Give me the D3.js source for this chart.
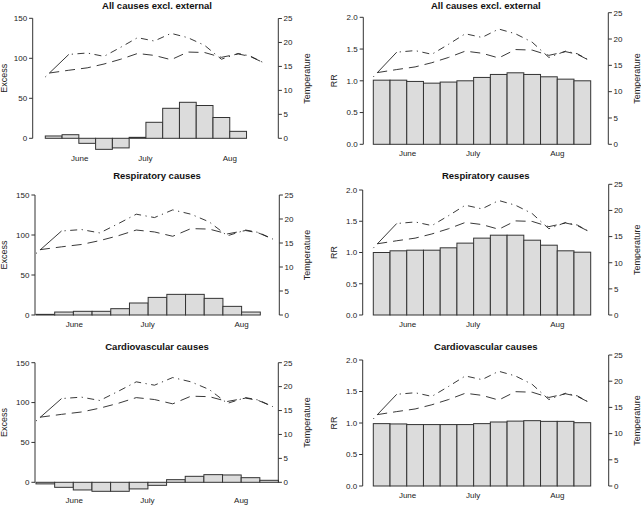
<!DOCTYPE html>
<html>
<head>
<meta charset="utf-8">
<script src="https://cdn.jsdelivr.net/npm/d3@7"></script>
<style>
  html, body { margin: 0; padding: 0; background: #fff; }
  svg { display: block; font-family: "Liberation Sans", Arial, Helvetica, sans-serif; }
</style>
</head>
<body>
<svg id="chart" width="641" height="507"></svg>
<script>
// ---------------- DATA ----------------
const weeks = [1, 2, 3, 4, 5, 6, 7, 8, 9, 10, 11, 12, 13];
const monthLabels = ["June", "July", "Aug"];
const monthPos = [2.05, 5.97, 11.0];           // position in week units

const excessAll    = [2.9, 4.5, -6.3, -13.8, -12.0, 1.2, 20.0, 37.5, 45.0, 41.0, 26.0, 8.7, 0];
const excessResp   = [0.8, 3.7, 4.6, 4.6, 7.9, 15.0, 22.0, 25.8, 25.8, 20.8, 10.8, 3.7, null];
const excessCardio = [-2.0, -6.3, -9.6, -11.3, -11.3, -8.3, -3.8, 3.3, 7.5, 9.6, 9.2, 5.8, 2.5];

const rrAll    = [1.01, 1.01, 0.99, 0.963, 0.98, 1.0, 1.053, 1.10, 1.126, 1.10, 1.063, 1.026, 1.0];
const rrResp   = [1.0, 1.027, 1.037, 1.037, 1.075, 1.15, 1.23, 1.277, 1.277, 1.197, 1.117, 1.027, 1.005];
const rrCardio = [0.99, 0.985, 0.975, 0.975, 0.975, 0.975, 0.99, 1.016, 1.03, 1.037, 1.026, 1.026, 1.005];

const tempX    = [0, 1.4, 2.5, 3.5, 4.5, 5.5, 6.5, 7.5, 8.5, 9.5, 10.5, 11.5, 12.2, 13];
const tempMax  = [12.8, 17.5, 17.8, 17.1, 19.0, 21.0, 20.3, 21.9, 21.0, 19.4, 16.5, 17.7, 17.2, 15.8];
const tempMean = [13.5, 14.2, 14.7, 15.5, 16.5, 17.7, 17.3, 16.4, 18.0, 17.9, 16.9, 17.6, 17.1, 15.8];

const excessTicks = [0, 50, 100, 150];
const rrTicks = [0, 0.5, 1.0, 1.5, 2.0];
const tempTicks = [0, 5, 10, 15, 20, 25];

const titles = ["All causes excl. external", "Respiratory causes", "Cardiovascular causes"];

// ---------------- LAYOUT ----------------
const panels = [
  {title: titles[0], kind: "excess", values: excessAll,  axL: 32.7, axR: 278.3, y0: 138.3, yTop: 18.3, tTop: 18.5, bx0: 45.3, bx1: 263.3, lx1: 263.3, titleX: 157,   titleY: 8.5},
  {title: titles[0], kind: "rr",     values: rrAll,      axL: 363.3, axR: 608.3, y0: 144.3, yTop: 17.3, tTop: 12.7, bx0: 373.3, bx1: 590.7, lx1: 590.7, titleX: 485.8, titleY: 8.5},
  {title: titles[1], kind: "excess", values: excessResp, axL: 35,   axR: 279.3, y0: 315,   yTop: 195,  tTop: 195,  bx0: 36,   bx1: 279,   lx1: 273,   titleX: 157,   titleY: 178.5},
  {title: titles[1], kind: "rr",     values: rrResp,     axL: 362.7, axR: 608.7, y0: 315,   yTop: 190,  tTop: 184.3, bx0: 373.3, bx1: 590.7, lx1: 590.7, titleX: 485.8, titleY: 178.5},
  {title: titles[2], kind: "excess", values: excessCardio, axL: 35, axR: 278.3, y0: 482.3, yTop: 362.7, tTop: 362.7, bx0: 36,  bx1: 278.5, lx1: 273,   titleX: 157,   titleY: 349.5},
  {title: titles[2], kind: "rr",     values: rrCardio,   axL: 362.7, axR: 608.7, y0: 486,   yTop: 360,  tTop: 355,  bx0: 373.3, bx1: 590.7, lx1: 590.7, titleX: 485.8, titleY: 349.5}
];

const ink = "#333";
const svg = d3.select("#chart");

panels.forEach(p => {
  const g = svg.append("g");
  const isEx = p.kind === "excess";
  const x = d3.scaleLinear().domain([0, weeks.length]).range([p.bx0, p.bx1]);
  const xl = d3.scaleLinear().domain([0, weeks.length]).range([p.bx0, p.lx1]);
  const y = d3.scaleLinear().domain(isEx ? [0, 150] : [0, 2]).range([p.y0, p.yTop]);
  const yt = d3.scaleLinear().domain([0, 25]).range([p.y0, p.tTop]);

  // bars
  const bars = weeks.map((w, i) => ({i, v: p.values[i]})).filter(d => d.v !== null);
  g.selectAll("rect.bar").data(bars).join("rect")
    .attr("class", "bar")
    .attr("x", d => x(d.i))
    .attr("width", d => x(d.i + 1) - x(d.i))
    .attr("y", d => Math.min(y(0), y(d.v)))
    .attr("height", d => Math.abs(y(d.v) - y(0)))
    .attr("fill", "#dcdcdc")
    .attr("stroke", ink)
    .attr("stroke-width", 1);

  // temperature lines
  const ptsMax = tempX.map((t, i) => [xl(t), yt(tempMax[i])]);
  const ptsMean = tempX.map((t, i) => [xl(t), yt(tempMean[i])]);
  const line = d3.line();
  // dot-dash series: first segment (dot + long stroke), then dot-dash pattern
  g.append("path").attr("d", line(ptsMax.slice(0, 2)))
    .attr("fill", "none").attr("stroke", "#222").attr("stroke-width", 0.9)
    .attr("stroke-dasharray", "1.2,4.5,300");
  g.append("path").attr("d", line(ptsMax.slice(1)))
    .attr("fill", "none").attr("stroke", "#222").attr("stroke-width", 0.9)
    .attr("stroke-dasharray", "1.2,4.5,7,4.5").attr("stroke-dashoffset", -3);
  g.append("path").attr("d", line(ptsMean))
    .attr("fill", "none").attr("stroke", "#222").attr("stroke-width", 0.9)
    .attr("stroke-dasharray", "10,6").attr("stroke-dashoffset", -4);

  // left axis
  const la = g.append("g").attr("transform", `translate(${p.axL},0)`);
  const lt = isEx ? excessTicks : rrTicks;
  la.append("line").attr("y1", y(lt[0])).attr("y2", y(lt[lt.length - 1]))
    .attr("stroke", ink);
  la.selectAll("line.tk").data(lt).join("line").attr("class", "tk")
    .attr("x1", 0).attr("x2", -3.6).attr("y1", d => y(d)).attr("y2", d => y(d))
    .attr("stroke", ink);
  la.selectAll("text").data(lt).join("text")
    .attr("x", -5.6).attr("y", d => y(d)).attr("dy", "0.35em")
    .attr("text-anchor", "end").attr("font-size", 8).attr("fill", "#222")
    .text(d => isEx ? d3.format("d")(d) : d3.format(".1f")(d));

  // right axis
  const ra = g.append("g").attr("transform", `translate(${p.axR},0)`);
  ra.append("line").attr("y1", yt(0)).attr("y2", yt(25)).attr("stroke", ink);
  ra.selectAll("line.tk").data(tempTicks).join("line").attr("class", "tk")
    .attr("x1", 0).attr("x2", 3.6).attr("y1", d => yt(d)).attr("y2", d => yt(d))
    .attr("stroke", ink);
  ra.selectAll("text").data(tempTicks).join("text")
    .attr("x", 5.2).attr("y", d => yt(d)).attr("dy", "0.35em")
    .attr("text-anchor", "start").attr("font-size", 8).attr("fill", "#222")
    .text(d => d);

  // month labels
  const vmin = d3.min(bars, d => d.v);
  const labY = y(Math.min(0, vmin)) + 9;
  g.selectAll("text.month").data(monthLabels).join("text").attr("class", "month")
    .attr("x", (d, i) => x(monthPos[i])).attr("y", labY).attr("dy", "0.35em")
    .attr("text-anchor", "middle").attr("font-size", 8).attr("fill", "#222")
    .text(d => d);

  // axis titles
  const lx = isEx ? 7 : 336.5;
  const lcy = (p.yTop + p.y0) / 2;
  g.append("text").attr("transform", `translate(${lx},${lcy}) rotate(-90)`)
    .attr("text-anchor", "middle").attr("font-size", 9).attr("fill", "#222")
    .text(isEx ? "Excess" : "RR");
  const tx = isEx ? 310.3 : 639.5;
  const tcy = (p.tTop + p.y0) / 2;
  g.append("text").attr("transform", `translate(${tx},${tcy}) rotate(-90)`)
    .attr("text-anchor", "middle").attr("font-size", 9).attr("fill", "#222")
    .text("Temperature");

  // title
  g.append("text").attr("x", p.titleX).attr("y", p.titleY)
    .attr("text-anchor", "middle").attr("font-size", 9.5).attr("font-weight", "bold")
    .attr("fill", "#111").text(p.title);
});
</script>
</body>
</html>
